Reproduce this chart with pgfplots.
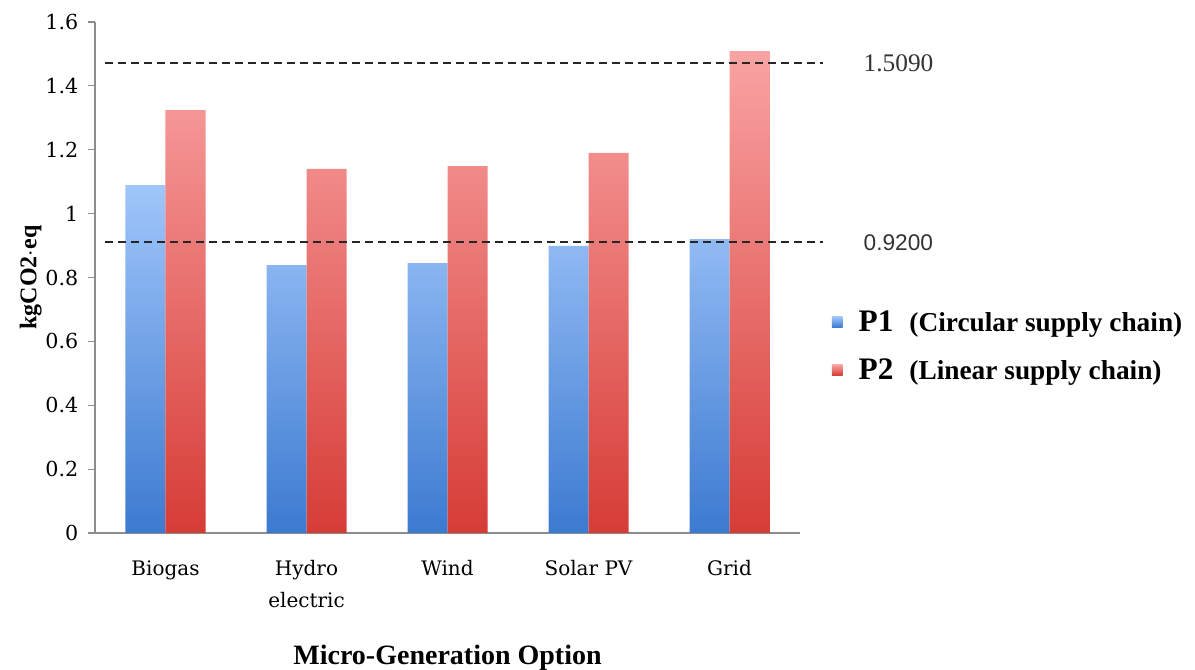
\documentclass[border=0pt]{standalone}
\usepackage{fontspec}
\setmainfont{Liberation Serif}
\newfontfamily\tickfont{DejaVu Serif}
\newfontfamily\sansfont{Liberation Sans}
\usepackage{pgfplots}
\pgfplotsset{compat=1.18}
\definecolor{BlueTop}{HTML}{A0C6FA}
\definecolor{BlueBot}{HTML}{3C7AD0}
\definecolor{RedTop}{HTML}{F9A3A3}
\definecolor{RedBot}{HTML}{D63C36}
\definecolor{AxisGray}{HTML}{8C8C8C}
\begin{document}
\begin{tikzpicture}
\begin{axis}[
    name=ax,
    scale only axis,
    width=528.75pt,
    height=383.25pt,
    ybar=0pt,
    bar width=30pt,
    xmin=-0.5, xmax=4.5,
    ymin=0, ymax=1.6,
    xtick={0,1,2,3,4},
    xticklabels={Biogas,Hydro\\electric,Wind,Solar PV,Grid},
    xticklabel style={font=\tickfont\fontsize{15}{24}\selectfont, align=center, yshift=-12pt},
    major x tick style={draw=none},
    ytick={0,0.2,...,1.6},
    yticklabel style={font=\tickfont\fontsize{15.5}{15.5}\selectfont, xshift=-4pt},
    /pgf/number format/assume math mode=true,
    y tick style={AxisGray, line width=0.8pt},
    tick align=outside,
    major tick length=5pt,
    axis x line*=bottom,
    axis y line*=left,
    axis line style={AxisGray, line width=1pt, -},
    xlabel={\textbf{Micro-Generation Option}},
    xlabel style={font=\fontsize{21}{24}\selectfont, yshift=-21pt},
    ylabel={\textbf{kgCO2$\cdot$eq}},
    ylabel style={font=\fontsize{18}{20}\selectfont, yshift=-4pt},
    clip=false,
    legend cell align=left,
    legend style={draw=none, fill=none, at={(1.045,0.366)}, anchor=west,
        inner sep=0pt, row sep=15pt,
        font=\bfseries\fontsize{20.5}{22}\selectfont},
    legend image code/.code={\fill[#1] (0pt,-4pt) rectangle (8pt,4pt);},
]
\addplot[draw=none, top color=BlueTop, bottom color=BlueBot, shading=axis] coordinates {
    (0,1.089) (1,0.839) (2,0.845) (3,0.899) (4,0.920)
};
\addplot[draw=none, top color=RedTop, bottom color=RedBot, shading=axis] coordinates {
    (0,1.324) (1,1.140) (2,1.149) (3,1.190) (4,1.509)
};
\legend{\hspace{10pt}{\fontsize{23.5}{23.5}\selectfont P1}\hspace{12pt}(Circular supply chain),
        \hspace{10pt}{\fontsize{23.5}{23.5}\selectfont P2}\hspace{12pt}(Linear supply chain)}
\addplot[sharp plot, forget plot, black!85, line width=1.5pt, dash pattern=on 6pt off 3.75pt]
    coordinates {(-0.43,1.471) (4.66,1.471)};
\addplot[sharp plot, forget plot, black!85, line width=1.5pt, dash pattern=on 6pt off 3.75pt]
    coordinates {(-0.43,0.911) (4.66,0.911)};
\node[anchor=west, inner sep=0pt, font=\fontsize{19}{19}\selectfont, text=black!80]
    at (axis cs:4.95,1.471) {1.5090};
\node[anchor=west, inner sep=0pt, font=\sansfont\fontsize{17}{17}\selectfont, text=black!80]
    at (axis cs:4.95,0.908) {0.9200};
\end{axis}
\pgfresetboundingbox
\path[use as bounding box] ([xshift=-71.25pt,yshift=-102.75pt]ax.south west)
    rectangle ([xshift=296.25pt,yshift=16.5pt]ax.north east);
\end{tikzpicture}
\end{document}
